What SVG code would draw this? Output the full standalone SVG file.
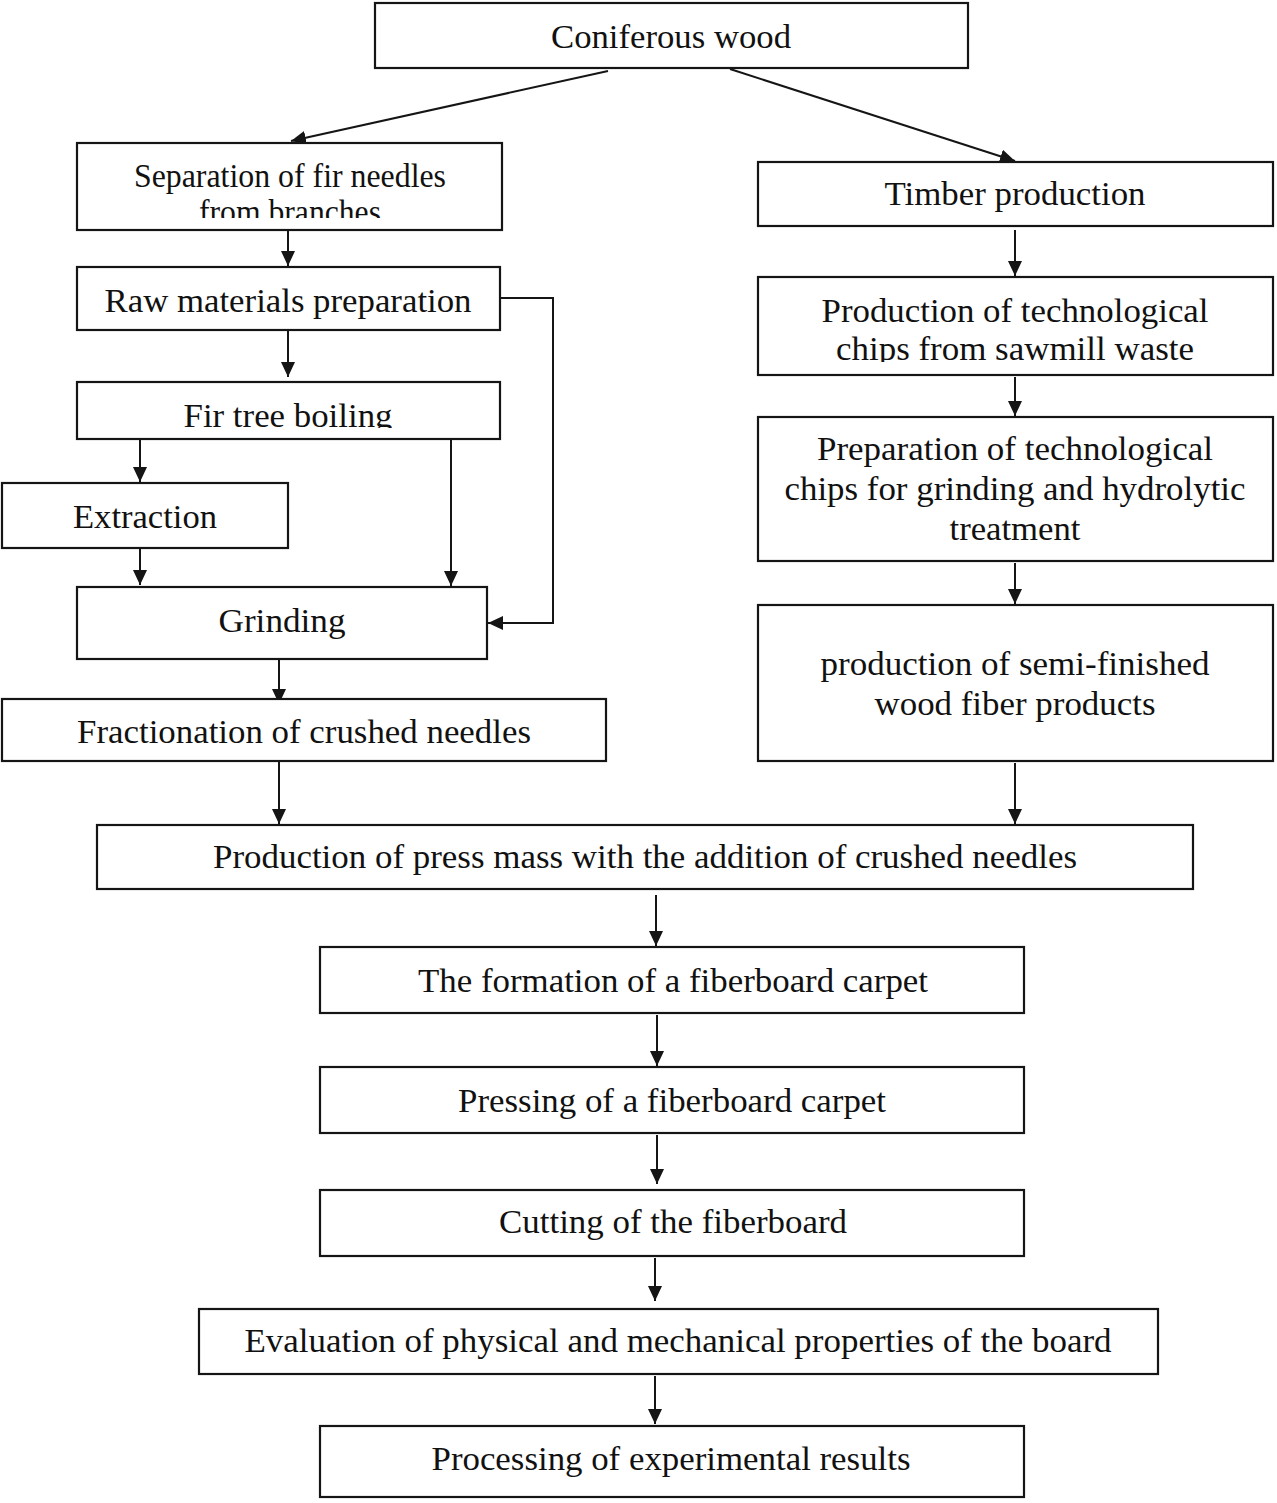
<svg xmlns="http://www.w3.org/2000/svg" width="1277" height="1503" viewBox="0 0 1277 1503">
<style>
rect.box{fill:#fff;stroke:#151515;stroke-width:2.2}
text{font-family:"Liberation Serif","Times New Roman",serif;font-size:34px;fill:#111;text-anchor:middle}
.conn{fill:none;stroke:#151515;stroke-width:2}
</style>
<defs>
<marker id="ah" markerUnits="userSpaceOnUse" markerWidth="16" markerHeight="14" refX="15" refY="7" orient="auto">
<path d="M0,0 L15,7 L0,14 Z" fill="#151515"/>
</marker>
<clipPath id="c1"><rect x="78" y="144" width="423" height="74"/></clipPath>
<clipPath id="c2"><rect x="78" y="383" width="421" height="45"/></clipPath>
<clipPath id="c3"><rect x="759" y="278" width="513" height="84"/></clipPath>
</defs>
<rect width="1277" height="1503" fill="#fff"/>

<g id="connectors">
<line class="conn" x1="608" y1="71" x2="291" y2="141" marker-end="url(#ah)"/>
<line class="conn" x1="730" y1="69" x2="1015" y2="161" marker-end="url(#ah)"/>
<line class="conn" x1="288" y1="231" x2="288" y2="266" marker-end="url(#ah)"/>
<line class="conn" x1="288" y1="331" x2="288" y2="377" marker-end="url(#ah)"/>
<line class="conn" x1="140" y1="440" x2="140" y2="482" marker-end="url(#ah)"/>
<line class="conn" x1="451" y1="440" x2="451" y2="586" marker-end="url(#ah)"/>
<line class="conn" x1="140" y1="549" x2="140" y2="585" marker-end="url(#ah)"/>
<polyline class="conn" points="501,298 553,298 553,623 488,623" marker-end="url(#ah)"/>
<line class="conn" x1="279" y1="660" x2="279" y2="704" marker-end="url(#ah)"/>
<line class="conn" x1="279" y1="762" x2="279" y2="824" marker-end="url(#ah)"/>
<line class="conn" x1="1015" y1="230" x2="1015" y2="276" marker-end="url(#ah)"/>
<line class="conn" x1="1015" y1="377" x2="1015" y2="416" marker-end="url(#ah)"/>
<line class="conn" x1="1015" y1="563" x2="1015" y2="604" marker-end="url(#ah)"/>
<line class="conn" x1="1015" y1="763" x2="1015" y2="824" marker-end="url(#ah)"/>
<line class="conn" x1="656" y1="895" x2="656" y2="946" marker-end="url(#ah)"/>
<line class="conn" x1="657" y1="1015" x2="657" y2="1066" marker-end="url(#ah)"/>
<line class="conn" x1="657" y1="1135" x2="657" y2="1184" marker-end="url(#ah)"/>
<line class="conn" x1="655" y1="1258" x2="655" y2="1301" marker-end="url(#ah)"/>
<line class="conn" x1="655" y1="1376" x2="655" y2="1424" marker-end="url(#ah)"/>
</g>

<g id="n-coniferous"><rect class="box" x="375" y="3" width="593" height="65"/><text x="671" y="48" textLength="240" lengthAdjust="spacingAndGlyphs">Coniferous wood</text></g>

<g id="n-separation"><rect class="box" x="77" y="143" width="425" height="87"/>
<text x="290" y="187" textLength="312" lengthAdjust="spacingAndGlyphs">Separation of fir needles</text>
<text x="290" y="223" textLength="182" lengthAdjust="spacingAndGlyphs" clip-path="url(#c1)">from branches</text></g>

<g id="n-raw"><rect class="box" x="77" y="267" width="423" height="63"/><text x="288" y="312" textLength="367" lengthAdjust="spacingAndGlyphs">Raw materials preparation</text></g>

<g id="n-boiling"><rect class="box" x="77" y="382" width="423" height="57"/><text x="288" y="427" textLength="209" lengthAdjust="spacingAndGlyphs" clip-path="url(#c2)">Fir tree boiling</text></g>

<g id="n-extraction"><rect class="box" x="2" y="483" width="286" height="65"/><text x="145" y="528" textLength="144" lengthAdjust="spacingAndGlyphs">Extraction</text></g>

<g id="n-grinding"><rect class="box" x="77" y="587" width="410" height="72"/><text x="282" y="632" textLength="127" lengthAdjust="spacingAndGlyphs">Grinding</text></g>

<g id="n-fractionation"><rect class="box" x="2" y="699" width="604" height="62"/><text x="304" y="743" textLength="454" lengthAdjust="spacingAndGlyphs">Fractionation of crushed needles</text></g>

<g id="n-timber"><rect class="box" x="758" y="162" width="515" height="64"/><text x="1015" y="205" textLength="261" lengthAdjust="spacingAndGlyphs">Timber production</text></g>

<g id="n-chips"><rect class="box" x="758" y="277" width="515" height="98"/>
<text x="1015" y="322" textLength="387" lengthAdjust="spacingAndGlyphs">Production of technological</text>
<text x="1015" y="360" textLength="358" lengthAdjust="spacingAndGlyphs" clip-path="url(#c3)">chips from sawmill waste</text></g>

<g id="n-prep-chips"><rect class="box" x="758" y="417" width="515" height="144"/>
<text x="1015" y="460" textLength="396" lengthAdjust="spacingAndGlyphs">Preparation of technological</text>
<text x="1015" y="500" textLength="461" lengthAdjust="spacingAndGlyphs">chips for grinding and hydrolytic</text>
<text x="1015" y="540" textLength="131" lengthAdjust="spacingAndGlyphs">treatment</text></g>

<g id="n-semi"><rect class="box" x="758" y="605" width="515" height="156"/>
<text x="1015" y="675" textLength="389" lengthAdjust="spacingAndGlyphs">production of semi-finished</text>
<text x="1015" y="715" textLength="281" lengthAdjust="spacingAndGlyphs">wood fiber products</text></g>

<g id="n-pressmass"><rect class="box" x="97" y="825" width="1096" height="64"/><text x="645" y="868" textLength="864" lengthAdjust="spacingAndGlyphs">Production of press mass with the addition of crushed needles</text></g>

<g id="n-formation"><rect class="box" x="320" y="947" width="704" height="66"/><text x="673" y="992" textLength="510" lengthAdjust="spacingAndGlyphs">The formation of a fiberboard carpet</text></g>

<g id="n-pressing"><rect class="box" x="320" y="1067" width="704" height="66"/><text x="672" y="1112" textLength="428" lengthAdjust="spacingAndGlyphs">Pressing of a fiberboard carpet</text></g>

<g id="n-cutting"><rect class="box" x="320" y="1190" width="704" height="66"/><text x="673" y="1233" textLength="348" lengthAdjust="spacingAndGlyphs">Cutting of the fiberboard</text></g>

<g id="n-evaluation"><rect class="box" x="199" y="1309" width="959" height="65"/><text x="678" y="1352" textLength="867" lengthAdjust="spacingAndGlyphs">Evaluation of physical and mechanical properties of the board</text></g>

<g id="n-processing"><rect class="box" x="320" y="1426" width="704" height="71"/><text x="671" y="1470" textLength="479" lengthAdjust="spacingAndGlyphs">Processing of experimental results</text></g>
</svg>
